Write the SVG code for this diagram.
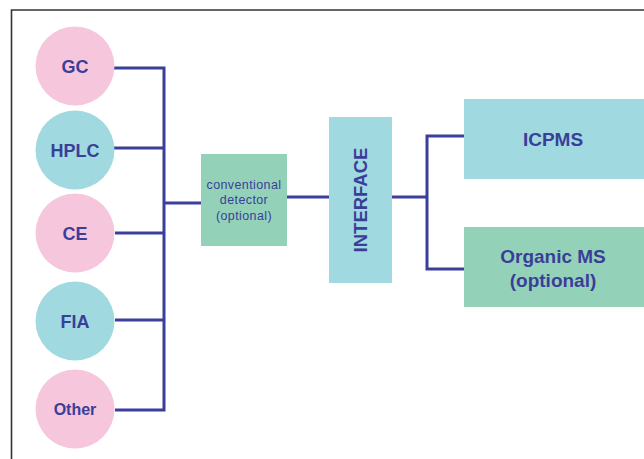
<svg xmlns="http://www.w3.org/2000/svg" width="644" height="459" viewBox="0 0 644 459">
<style>
.pink{fill:#f6c6dc}
.cyan{fill:#a0d9e0}
.green{fill:#93d2b9}
.lbl{font-family:"Liberation Sans",Arial,sans-serif;font-weight:bold;fill:#3b3e98;text-anchor:middle}
.small{font-family:"Liberation Sans",Arial,sans-serif;fill:#3b3e98;text-anchor:middle;font-size:12.5px;letter-spacing:0.4px}
.conn{fill:none;stroke:#3b3e9c;stroke-width:3}
</style>
<rect width="644" height="459" fill="#fff"/>
<path d="M11.5 459 V10 H644" fill="none" stroke="#333" stroke-width="1.6"/>
<g id="connectors">
<path class="conn" d="M114 68 H164 V410 H115"/>
<path class="conn" d="M114 148 H164"/>
<path class="conn" d="M115 233 H164"/>
<path class="conn" d="M115 320 H164"/>
<path class="conn" d="M164 203 H201"/>
<path class="conn" d="M287 197 H329"/>
<path class="conn" d="M392 197 H427"/>
<path class="conn" d="M464 136 H427 V269 H464"/>
</g>
<g id="gc"><circle class="pink" cx="75" cy="66" r="39.5"/><text class="lbl" x="75" y="72.5" font-size="18">GC</text></g>
<g id="hplc"><circle class="cyan" cx="75" cy="150" r="39.5"/><text class="lbl" x="75" y="156.5" font-size="18">HPLC</text></g>
<g id="ce"><circle class="pink" cx="75" cy="233" r="39.5"/><text class="lbl" x="75" y="239.5" font-size="18">CE</text></g>
<g id="fia"><circle class="cyan" cx="75" cy="321" r="39.5"/><text class="lbl" x="75" y="327.5" font-size="18">FIA</text></g>
<g id="other"><circle class="pink" cx="75" cy="409" r="39.5"/><text class="lbl" x="75" y="414.5" font-size="16">Other</text></g>
<g id="detector"><rect class="green" x="201" y="154" width="86" height="92"/>
<text class="small" x="244" y="189">conventional</text>
<text class="small" x="244" y="204">detector</text>
<text class="small" x="244" y="220">(optional)</text></g>
<g id="interface"><rect class="cyan" x="329" y="117" width="63" height="166"/>
<text class="lbl" font-size="18.5" transform="translate(366.5 200) rotate(-90)" x="0" y="0">INTERFACE</text></g>
<g id="icpms"><rect class="cyan" x="464" y="99" width="180" height="80"/><text class="lbl" x="553" y="146" font-size="19">ICPMS</text></g>
<g id="organicms"><rect class="green" x="464" y="227" width="180" height="80"/>
<text class="lbl" x="553" y="263" font-size="19">Organic MS</text>
<text class="lbl" x="553" y="287" font-size="19">(optional)</text></g>
</svg>
